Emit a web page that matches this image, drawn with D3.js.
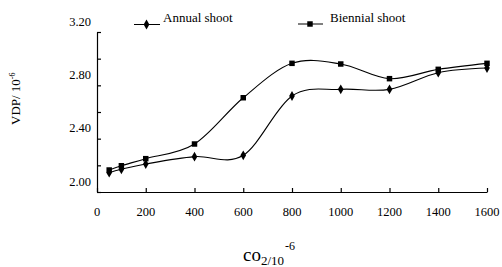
<!DOCTYPE html>
<html>
<head>
<meta charset="utf-8">
<script src="https://cdn.jsdelivr.net/npm/d3@7"></script>
<style>
	body { margin: 0; background: #fff; }
</style>
</head>
<body>
<div id="chart"></div>
<script>
// data
var co2 = [50, 100, 200, 400, 600, 800, 1000, 1200, 1400, 1600];
var annual = [2.145, 2.17, 2.21, 2.265, 2.275, 2.72, 2.77, 2.77, 2.895, 2.93];
var biennial = [2.165, 2.197, 2.25, 2.36, 2.707, 2.965, 2.96, 2.85, 2.92, 2.965];
var xTicks = [0, 200, 400, 600, 800, 1000, 1200, 1400, 1600];
var yTicks = [2.0, 2.2, 2.4, 2.6, 2.8, 3.0, 3.2];
var yLabels = [2.0, 2.4, 2.8, 3.2];

(function () {
	var W = 502, H = 267;
	var FONT = "'Liberation Serif', 'Times New Roman', 'DejaVu Serif', serif";
	var margin = {top: 32, right: 15, bottom: 75, left: 97},
		width = W - margin.left - margin.right,
		height = H - margin.top - margin.bottom;

	var xScale = d3.scaleLinear().domain([0, 1600]).range([0, 390]);
	var yScale = d3.scaleLinear().domain([2.0, 3.2]).range([height, 0]);

	var svg = d3.select("#chart").append("svg")
		.attr("width", W)
		.attr("height", H)
		.attr("font-family", FONT)
		.style("font-family", FONT);

	var g = svg.append("g")
		.attr("transform", "translate(" + margin.left + "," + margin.top + ")");

	// axes, ticks pointing inward
	var xAxis = d3.axisBottom(xScale).tickValues(xTicks).tickSizeInner(-4).tickSizeOuter(0).tickFormat("");
	var yAxis = d3.axisLeft(yScale).tickValues(yTicks).tickSizeInner(-4).tickSizeOuter(0).tickFormat("");

	g.append("g").attr("transform", "translate(0," + height + ")").call(xAxis)
		.call(function (s) { s.selectAll("path, line").attr("stroke", "#000").attr("stroke-width", 1.2); });
	g.append("g").call(yAxis)
		.call(function (s) { s.selectAll("path, line").attr("stroke", "#000").attr("stroke-width", 1.2); });

	// tick labels
	g.selectAll(".xlab").data(xTicks).enter().append("text")
		.attr("x", function (d) { return xScale(d); })
		.attr("y", height + 24)
		.attr("text-anchor", "middle")
		.style("font-family", FONT)
		.style("font-size", "12.5px")
		.text(function (d) { return d; });

	g.selectAll(".ylab").data(yLabels).enter().append("text")
		.attr("x", -6)
		.attr("y", function (d) { return yScale(d) - 6.5; })
		.attr("text-anchor", "end")
		.style("font-family", FONT)
		.style("font-size", "12.5px")
		.text(function (d) { return d.toFixed(2); });

	var line = d3.line()
		.x(function (d) { return xScale(d[0]); })
		.y(function (d) { return yScale(d[1]); })
		.curve(d3.curveCardinal.tension(0));

	var annualPts = co2.map(function (c, i) { return [c, annual[i]]; });
	var biennialPts = co2.map(function (c, i) { return [c, biennial[i]]; });

	[annualPts, biennialPts].forEach(function (pts) {
		g.append("path")
			.datum(pts)
			.attr("fill", "none")
			.attr("stroke", "#000")
			.attr("stroke-width", 1.1)
			.attr("d", line);
	});

	var diamond = d3.symbol().type(d3.symbolDiamond).size(28);
	var square = d3.symbol().type(d3.symbolSquare).size(30);

	g.selectAll(".sq").data(biennialPts).enter().append("path")
		.attr("d", square)
		.attr("transform", function (d) { return "translate(" + xScale(d[0]) + "," + yScale(d[1]) + ")"; });

	g.selectAll(".dm").data(annualPts).enter().append("path")
		.attr("d", diamond)
		.attr("transform", function (d) { return "translate(" + xScale(d[0]) + "," + yScale(d[1]) + ")"; });

	// legend
	var legend = svg.append("g");
	legend.append("line").attr("x1", 134).attr("x2", 160).attr("y1", 24.5).attr("y2", 24.5).attr("stroke", "#000");
	legend.append("path").attr("d", diamond).attr("transform", "translate(146.5,24.5)");
	legend.append("text").attr("x", 163).attr("y", 22).style("font-family", FONT).style("font-size", "13px").text("Annual shoot");

	legend.append("line").attr("x1", 298).attr("x2", 323).attr("y1", 24).attr("y2", 24).attr("stroke", "#000");
	legend.append("path").attr("d", square).attr("transform", "translate(310,24)");
	legend.append("text").attr("x", 330).attr("y", 22).style("font-family", FONT).style("font-size", "13px").text("Biennial shoot");

	// axis titles
	var yt = svg.append("text")
		.attr("transform", "translate(20,125) rotate(-90)")
		.style("font-family", FONT)
		.style("font-size", "13px");
	yt.append("tspan").text("VDP/ 10");
	yt.append("tspan").attr("dy", -5).style("font-size", "8px").text("-6");

	var xt = svg.append("text")
		.attr("x", 243)
		.attr("y", 261)
		.style("font-family", FONT)
		.style("font-size", "19px");
	xt.append("tspan").text("co");
	xt.append("tspan").attr("dy", 4).style("font-size", "13px").text("2/10");
	xt.append("tspan").attr("dy", -15).attr("dx", 1).style("font-size", "12px").text("-6");
})();
</script>
</body>
</html>
